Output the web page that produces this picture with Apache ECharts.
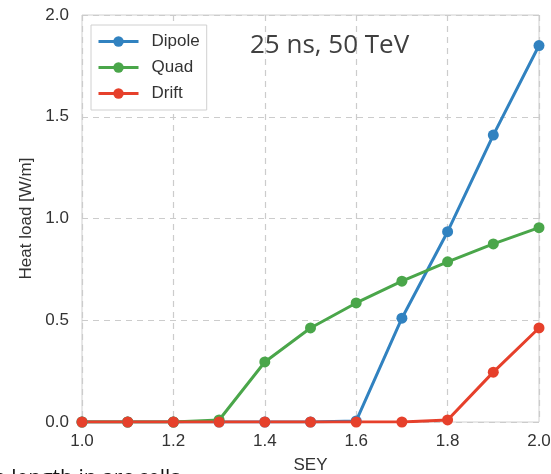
<!DOCTYPE html>
<html><head><meta charset="utf-8">
<script src="https://cdn.jsdelivr.net/npm/echarts@6/dist/echarts.min.js"></script>
<style>html,body{margin:0;padding:0;background:#fff}#c{width:551px;height:474px}</style>
</head><body><div id="c"></div>
<script>
const sey = [1.0, 1.1, 1.2, 1.3, 1.4, 1.5, 1.6, 1.7, 1.8, 1.9, 2.0];
const dipole = [0, 0, 0, 0, 0, 0, 0.005, 0.51, 0.935, 1.41, 1.85];
const quad = [0, 0, 0, 0.01, 0.295, 0.462, 0.585, 0.692, 0.787, 0.875, 0.955];
const drift = [0, 0, 0, 0, 0, 0, 0, 0, 0.01, 0.245, 0.462];
const xTicks = [1.0, 1.2, 1.4, 1.6, 1.8, 2.0];
const yTicks = [0.0, 0.5, 1.0, 1.5, 2.0];

const pair = a => sey.map((x, i) => [x, a[i]]);
const chart = echarts.init(document.getElementById('c'));
const font = 'Liberation Sans, Arial, sans-serif';
function mk(name, data, color) {
  return {
    name, type: 'line', data: pair(data), symbol: 'circle', symbolSize: 11,
    lineStyle: {width: 3, color}, itemStyle: {color}, clip: true,
    emphasis: {disabled: true}
  };
}
chart.setOption({
  animation: false,
  grid: {left: 82, right: 12, top: 15, bottom: 52, show: true, borderColor: '#d0d0d0', borderWidth: 1,
         containLabel: false, outerBoundsMode: 'none'},
  xAxis: {
    type: 'value', min: 1.0, max: 2.0, interval: 0.2,
    name: 'SEY', nameLocation: 'middle', nameGap: 35,
    nameTextStyle: {fontFamily: font, fontSize: 17, color: '#333'},
    axisLine: {show: false}, axisTick: {show: false},
    axisLabel: {fontFamily: font, fontSize: 17, color: '#333', margin: 11, formatter: v => v.toFixed(1)},
    splitLine: {show: true, lineStyle: {color: '#cccccc', type: [6, 5], width: 1.2}}
  },
  yAxis: {
    type: 'value', min: 0, max: 2.0, interval: 0.5,
    name: 'Heat load [W/m]', nameLocation: 'middle', nameGap: 46,
    nameTextStyle: {fontFamily: font, fontSize: 17, color: '#333'},
    axisLine: {show: false}, axisTick: {show: false},
    axisLabel: {fontFamily: font, fontSize: 17, color: '#333', margin: 13, formatter: v => v.toFixed(1)},
    splitLine: {show: true, lineStyle: {color: '#cccccc', type: [6, 5], width: 1.2}}
  },
  legend: {
    orient: 'vertical', left: 91, top: 25, padding: [8, 7, 8, 6],
    itemWidth: 40, itemHeight: 13, itemGap: 9,
    borderColor: '#d0d0d0', borderWidth: 1, borderRadius: 0, backgroundColor: '#fff',
    lineStyle: {width: 3},
    textStyle: {fontFamily: font, fontSize: 17, color: '#333', padding: [0, 0, 0, 8]},
    data: ['Dipole', 'Quad', 'Drift']
  },
  series: [
    mk('Dipole', dipole, '#3182c0'),
    mk('Quad', quad, '#4aa64a'),
    mk('Drift', drift, '#e6402b')
  ],
  graphic: [
    {type: 'text', left: 250, top: 33, z: 100, style: {text: '25 ns, 50 TeV', fontFamily: 'Open Sans, sans-serif', fontSize: 26, fill: '#404040'}},
    {type: 'text', left: -6, top: 469, z: 100, style: {text: 'e length in arc cells', fontFamily: 'Open Sans, sans-serif', fontSize: 21, fill: '#111'}}
  ]
});
</script></body></html>
